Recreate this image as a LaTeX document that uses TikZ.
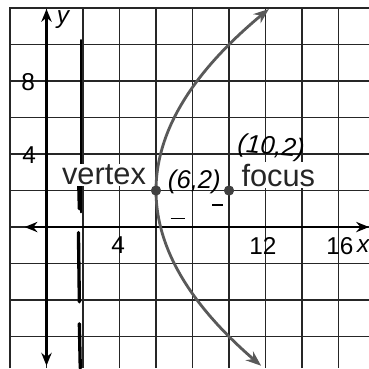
\documentclass[tikz,border=0pt]{standalone}
\usepackage{fontspec}
\setmainfont{Liberation Sans}
\usetikzlibrary{arrows.meta}
\begin{document}
\begin{tikzpicture}[x=0.5cm,y=0.5cm,
  gridline/.style={black!85,line width=1.2pt},
  axis/.style={black,line width=2pt,{Stealth[length=10pt,width=8pt]}-{Stealth[length=10pt,width=8pt]}},
  curve/.style={black!65,line width=2.2pt,{Stealth[length=12pt,width=9pt]}-{Stealth[length=12pt,width=9pt]}},
  directrix/.style={black,line width=2.6pt,line cap=round},
  numlabel/.style={font=\fontsize{19}{19}\selectfont,inner sep=1pt},
  wordlabel/.style={font=\fontsize{24}{24}\selectfont,fill=white,inner sep=1pt,text=black!85},
  hand/.style={font=\fontsize{20}{20}\selectfont\itshape,inner sep=1pt},
  dot/.style={circle,fill=black!75,inner sep=0pt,minimum size=8pt}]
\useasboundingbox (-2.548,-7.73) rectangle (17.67,12.44);
\begin{scope}
\clip (-2.548,-7.73) rectangle (17.67,12.44);
\draw[gridline] (-2,-7.73) grid[step=2] (17.67,12);
\draw[gridline] (-2,-7.73) -- (-2,12) -- (17.67,12);
\end{scope}
% axes
\coordinate (xl) at (-1.2,0);
\coordinate (xr) at (17.67,0);
\coordinate (yb) at (0,-7.6);
\coordinate (yt) at (0,11.95);
\draw[axis] (xl) -- (xr);
\draw[axis] (yb) -- (yt);
% directrix
\coordinate (d1) at (1.9,10.25);
\coordinate (d2) at (1.9,0.8);
\coordinate (d3) at (1.75,-0.3);
\coordinate (d4) at (1.8,-4.1);
\coordinate (d5) at (1.8,-5.3);
\coordinate (d6) at (1.85,-7.73);
\draw[directrix,line width=1.4pt] (d1) -- (d2);
\draw[directrix] (1.75,3.1) -- (1.8,1.0);
\draw[directrix] (d3) -- (d4);
\draw[directrix] (d5) -- (d6);
% text labels (white background)
\node[wordlabel] (vtx) at (3.15,2.85) {vertex};
\node[wordlabel] (foc) at (12.7,2.85) {focus};
% parabola
\draw[curve] plot[domain=-9.6:9.95,variable=\t,samples=60,smooth] ({6+\t*\t/16},{2+\t});
% points
\node[dot] (V) at (6,2) {};
\node[dot] (F) at (10,2) {};
\node[hand] (vl) at (8.1,2.45) {(6,2)};
\draw[black,line width=1pt] (9.07,1.2) -- (9.67,1.2);
\draw[black,line width=1pt] (6.8,0.45) -- (7.6,0.45);
\node[hand,rotate=-5] (fl) at (12.3,4.35) {(10,2)};
% axis numbers
\node[numlabel] (n8) at (-1.0,7.95) {8};
\node[numlabel] (n4y) at (-0.95,3.95) {4};
\node[numlabel] (n4x) at (3.92,-1.0) {4};
\node[numlabel] (n12) at (11.86,-1.05) {12};
\node[numlabel] (n16) at (16.08,-1.05) {16};
\node[numlabel,font=\fontsize{19}{19}\selectfont\itshape] (xlab) at (17.35,-1.05) {x};
\node[numlabel,font=\fontsize{19}{19}\selectfont\itshape] (ylab) at (0.9,11.35) {y};
\end{tikzpicture}
\end{document}
